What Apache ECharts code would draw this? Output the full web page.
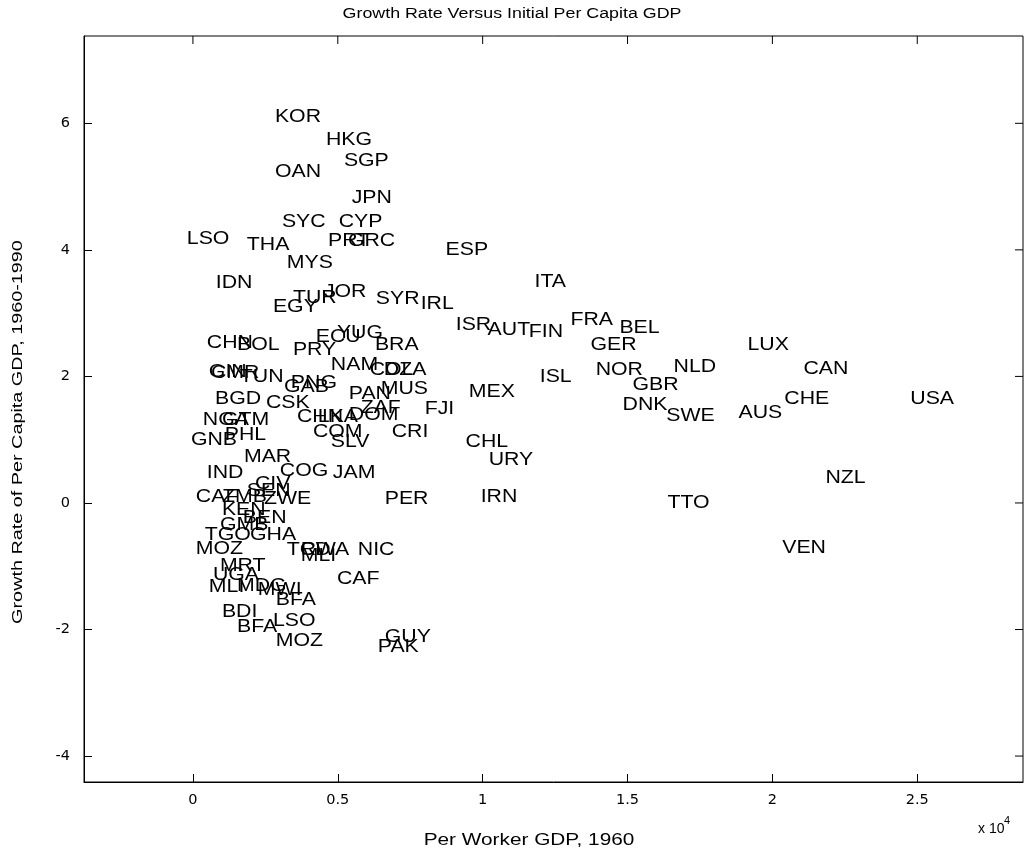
<!DOCTYPE html>
<html><head><meta charset="utf-8">
<script src="https://cdn.jsdelivr.net/npm/echarts@6/dist/echarts.min.js"></script>
<style>html,body{margin:0;padding:0;background:#fff}#c{width:1026px;height:854px}</style>
</head><body><div id="c"></div>
<script>
const names = ["KOR","HKG","SGP","OAN","JPN","SYC","CYP","LSO","THA","PRT","GRC","ESP","MYS","IDN","ITA","TUR","JOR","EGY","SYR","IRL","ISR","AUT","FIN","FRA","BEL","CHN","BOL","ECU","YUG","PRY","BRA","GER","LUX","NAM","COL","DZA","GIN","CMR","TUN","ISL","NOR","NLD","CAN","PNG","GAB","GBR","PAN","MUS","MEX","BGD","CSK","ZAF","FJI","DNK","SWE","AUS","CHE","USA","NGA","GTM","CHN","LKA","DOM","PHL","GNB","COM","SLV","CRI","CHL","URY","MAR","IND","COG","JAM","CIV","SEN","CAF","ZMB","ZWE","PER","IRN","TTO","NZL","KEN","BEN","GMB","TGO","GHA","MOZ","TCD","RWA","MLI","NIC","VEN","MRT","UGA","MLI","MDG","MWI","CAF","BFA","BDI","BFA","LSO","MOZ","GUY","PAK"];
const gdp1960 = [2830,4590,5210,2830,5480,3070,5030,-210,1860,4660,5350,8720,3240,790,11790,3450,4520,2760,6310,7860,9070,10170,11590,13030,14720,480,1520,4240,4970,3450,6280,13720,19140,4760,6100,6590,550,620,1620,11970,13900,16590,21070,3380,3140,15170,5380,6480,9520,760,2520,5790,8000,14830,16340,18830,20410,24760,340,1000,3590,4310,5380,1100,-70,4140,4760,6860,9410,10210,1760,480,3000,4830,2140,1860,100,1000,2450,6620,9930,16380,21830,1000,1720,930,410,1970,100,3240,3720,3720,5690,20340,930,690,550,1520,2240,4970,2860,1000,1520,2760,2860,6620,6380];
const growth = [6.10,5.73,5.40,5.24,4.82,4.44,4.44,4.17,4.08,4.14,4.14,4.00,3.79,3.48,3.49,3.24,3.33,3.10,3.22,3.14,2.81,2.73,2.70,2.89,2.76,2.53,2.50,2.62,2.69,2.42,2.50,2.50,2.50,2.18,2.10,2.10,2.07,2.05,1.99,1.99,2.10,2.15,2.12,1.90,1.83,1.86,1.72,1.80,1.75,1.64,1.58,1.50,1.48,1.55,1.37,1.42,1.64,1.64,1.31,1.31,1.36,1.36,1.39,1.07,0.99,1.12,0.96,1.12,0.96,0.68,0.73,0.47,0.51,0.47,0.30,0.19,0.09,0.09,0.06,0.06,0.09,0.00,0.39,-0.11,-0.24,-0.35,-0.51,-0.51,-0.73,-0.74,-0.74,-0.83,-0.74,-0.71,-1.00,-1.14,-1.33,-1.31,-1.37,-1.20,-1.53,-1.72,-1.96,-1.86,-2.18,-2.12,-2.27];
const xTicks = [0,5000,10000,15000,20000,25000];
const yTicks = [-4,-2,0,2,4,6];

const FONT = '"Liberation Sans", Arial, sans-serif';
const TICKFONT = '"DejaVu Sans", sans-serif';
const SX = 1.15;
const chart = echarts.init(document.getElementById('c'));
chart.setOption({
  animation:false,
  grid:{left:84, right:3, top:36, bottom:72, show:false},
  xAxis:{type:'value', min:-3760, max:28650,
    axisLine:{show:true, onZero:false, lineStyle:{color:'#000', width:1}},
    axisTick:{show:true, inside:true, length:8, customValues:xTicks, lineStyle:{color:'#000'}},
    axisLabel:{customValues:xTicks, margin:11, fontFamily:TICKFONT, fontSize:14.5, color:'#000',
      formatter:v=>String(v/10000)},
    splitLine:{show:false}},
  yAxis:{type:'value', min:-4.41, max:7.38,
    axisLine:{show:true, onZero:false, lineStyle:{color:'#000', width:1}},
    axisTick:{show:true, inside:true, length:8, customValues:yTicks, lineStyle:{color:'#000'}},
    axisLabel:{customValues:yTicks, margin:14, fontFamily:TICKFONT, fontSize:14.5, color:'#000'},
    splitLine:{show:false}},
  series:[
    {type:'custom', data:gdp1960.map((x,i)=>[x, growth[i]]),
     renderItem:(params, api)=>{
       const pt = api.coord([api.value(0), api.value(1)]);
       return {type:'text', x:pt[0], y:pt[1], scaleX:SX,
         style:{text:names[params.dataIndex], fill:'#000', font:'18.5px '+FONT,
           align:'left', verticalAlign:'middle'}};
     }}
  ]
});
const g = chart.getModel().getComponent('grid').coordinateSystem.getRect();
const extra = [{type:'rect', shape:{x:g.x, y:g.y, width:g.width, height:g.height}, style:{fill:'none', stroke:'#000', lineWidth:1}, silent:true}];
xTicks.forEach(v=>{const p=chart.convertToPixel({gridIndex:0},[v,0])[0];
  extra.push({type:'line', shape:{x1:p,y1:g.y,x2:p,y2:g.y+8}, style:{stroke:'#000'}});});
yTicks.forEach(v=>{const p=chart.convertToPixel({gridIndex:0},[0,v])[1];
  extra.push({type:'line', shape:{x1:g.x+g.width,y1:p,x2:g.x+g.width-8,y2:p}, style:{stroke:'#000'}});});
const texts = [
  {type:'text', x:512, y:14, scaleX:1.15, style:{text:'Growth Rate Versus Initial Per Capita GDP', font:'15.5px '+FONT, fill:'#000', align:'center', verticalAlign:'middle'}},
  {type:'text', x:529, y:840, scaleX:1.26, style:{text:'Per Worker GDP, 1960', font:'16.5px '+FONT, fill:'#000', align:'center', verticalAlign:'middle'}},
  {type:'text', x:18, y:432, rotation:Math.PI/2, scaleX:1.32, style:{text:'Growth Rate of Per Capita GDP, 1960-1990', font:'15px '+FONT, fill:'#000', align:'center', verticalAlign:'middle'}},
  {type:'text', x:978, y:829, style:{text:'x 10', font:'14px '+FONT, fill:'#000', align:'left', verticalAlign:'middle'}},
  {type:'text', x:1004, y:821, style:{text:'4', font:'11px '+FONT, fill:'#000', align:'left', verticalAlign:'middle'}}
];
chart.setOption({graphic:texts.concat(extra)});
</script></body></html>
